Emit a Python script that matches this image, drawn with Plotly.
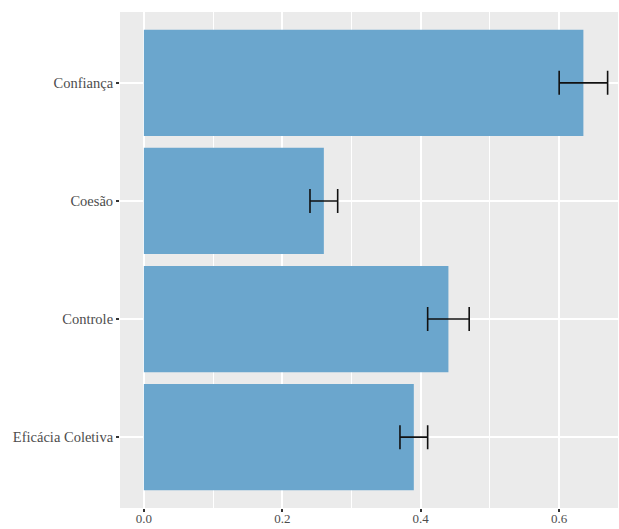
import plotly.graph_objects as go

# Dimensions, mean effect and error half-widths
categories = ["Eficácia Coletiva", "Controle", "Coesão", "Confiança"]
values = [0.39, 0.44, 0.26, 0.635]
err_plus = [0.02, 0.03, 0.02, 0.035]
err_minus = [0.02, 0.03, 0.02, 0.035]
x_ticks = [0.0, 0.2, 0.4, 0.6]
x_tick_labels = ["0.0", "0.2", "0.4", "0.6"]

fig = go.Figure(
    go.Bar(
        y=categories,
        x=values,
        orientation="h",
        width=0.9,
        marker=dict(color="#6BA6CD", line=dict(width=0)),
        error_x=dict(
            type="data",
            array=err_plus,
            arrayminus=err_minus,
            symmetric=False,
            color="#111111",
            thickness=1.6,
            width=12,
        ),
    )
)

font_family = "Liberation Serif, Times New Roman, serif"
tick_font = dict(family=font_family, size=14.5, color="#4D4D4D")

fig.update_layout(
    width=619,
    height=529,
    margin=dict(l=120, r=1, t=12, b=21),
    paper_bgcolor="white",
    plot_bgcolor="#EBEBEB",
    showlegend=False,
    font=dict(family=font_family, size=14.5, color="#4D4D4D"),
    xaxis=dict(
        range=[-0.0345, 0.685],
        tickvals=x_ticks,
        ticktext=x_tick_labels,
        automargin=False,
        showgrid=True,
        gridcolor="white",
        gridwidth=1.6,
        zeroline=False,
        showline=False,
        ticks="outside",
        ticklen=3,
        tickwidth=1.5,
        tickcolor="#333333",
        ticklabelstandoff=-5,
        tickfont=dict(family=font_family, size=13, color="#4D4D4D"),
        minor=dict(
            tickvals=[0.1, 0.3, 0.5],
            showgrid=True,
            gridcolor="white",
            gridwidth=0.8,
            ticks="",
        ),
    ),
    yaxis=dict(
        type="category",
        categoryorder="array",
        categoryarray=categories,
        range=[-0.6, 3.6],
        automargin=False,
        showgrid=True,
        gridcolor="white",
        gridwidth=1.6,
        zeroline=False,
        showline=False,
        ticks="outside",
        ticklen=3,
        tickwidth=1.5,
        tickcolor="#333333",
        tickfont=tick_font,
    ),
)

fig.write_html("out.html")
